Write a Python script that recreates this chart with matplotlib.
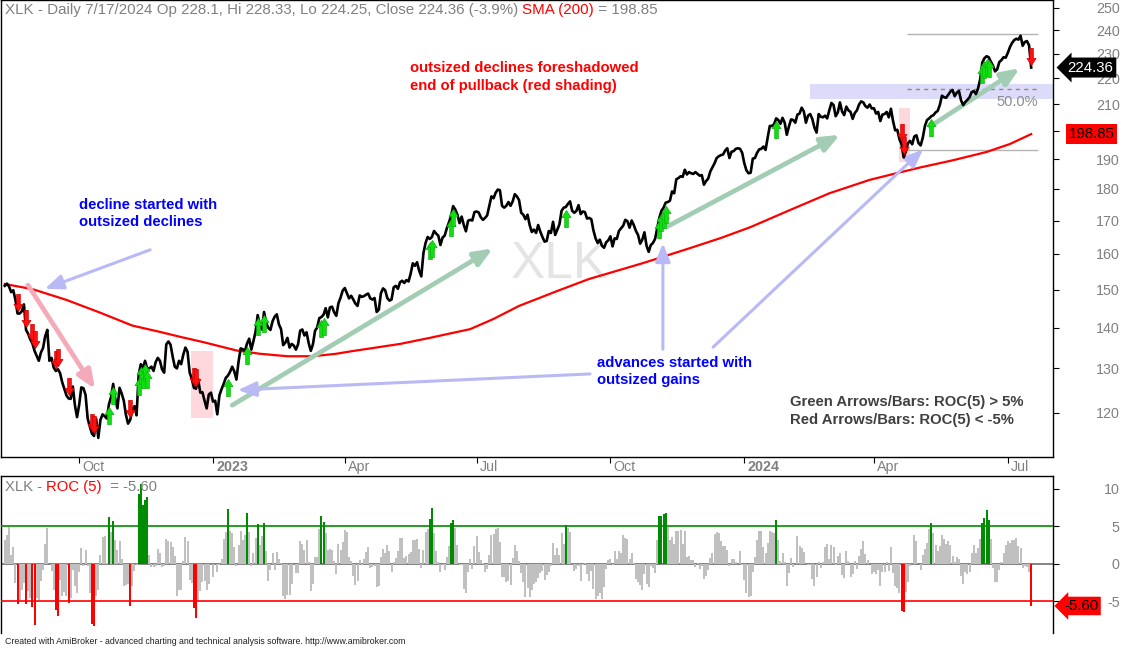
import numpy as np
import pandas as pd
import matplotlib
matplotlib.use('Agg')
import matplotlib.pyplot as plt
import matplotlib.transforms as mtransforms

FONT = ['Liberation Sans', 'DejaVu Sans']
plt.rcParams['font.family'] = FONT

W, H = 1123, 647

# ---------------- data ----------------
holidays = ['2022-09-05', '2022-11-24', '2022-12-26', '2023-01-02', '2023-01-16',
            '2023-02-20', '2023-04-07', '2023-05-29', '2023-06-19', '2023-07-04',
            '2023-09-04', '2023-11-23', '2023-12-25', '2024-01-01', '2024-01-15',
            '2024-02-19', '2024-03-29', '2024-05-27', '2024-06-19', '2024-07-04']
dates = pd.bdate_range('2022-08-12', '2024-07-17', freq='C', holidays=holidays)

# closes before the window (only used for the first ROC values)
pre_close = [146.4, 146.0, 143.8, 147.6, 146.6]

close_2022 = [
    # Aug
    151.0, 151.6, 150.8, 149.3, 149.8, 147.2, 143.6, 143.6, 144.2, 146.0, 139.4, 138.4, 137.0, 136.0,
    # Sep
    134.2, 133.0, 131.8, 133.8, 134.9, 137.8, 139.4, 131.8, 132.5, 130.2, 129.4, 129.8, 128.9, 126.8,
    125.3, 123.8, 123.1, 123.0, 125.8, 121.6, 119.0,
    # Oct
    121.7, 125.6, 125.4, 123.9, 118.7, 117.0, 115.5, 115.0, 118.6, 114.6, 118.4, 119.6, 119.2, 118.7,
    121.8, 123.4, 126.4, 123.0, 120.9, 125.5, 124.2,
    # Nov
    122.6, 119.5, 117.6, 118.4, 120.5, 121.4, 119.4, 128.5, 131.0, 130.0, 131.8, 130.0, 130.0, 130.4,
    129.4, 131.5, 132.5, 131.8, 129.8, 129.0, 135.8,
    # Dec
    136.5, 135.7, 132.8, 130.4, 130.0, 131.8, 131.0, 133.3, 135.0, 134.0, 129.0, 127.6, 125.5, 125.3,
    127.4, 124.4, 124.5, 122.6, 120.9, 124.0, 124.4,
]
close_2023 = [
    # Jan
    122.4, 122.6, 119.6, 123.8, 125.2, 126.4, 127.8, 128.3, 129.2, 130.4, 129.3, 127.4, 131.6, 134.8,
    134.6, 134.2, 136.0, 137.2, 134.5, 136.6,
    # Feb
    138.9, 143.2, 140.6, 139.5, 144.0, 141.2, 139.9, 139.4, 141.6, 142.8, 143.4, 140.8, 139.6, 135.6,
    136.2, 137.4, 135.0, 135.9, 135.5,
    # Mar
    134.5, 135.8, 139.2, 139.5, 138.0, 138.8, 136.1, 134.2, 135.8, 139.2, 140.0, 142.4, 142.7, 143.3,
    145.0, 142.6, 145.2, 145.4, 143.9, 143.0, 146.3, 147.8, 149.7,
    # Apr
    150.4, 149.0, 147.6, 148.3, 147.3, 146.2, 145.6, 148.4, 148.0, 148.2, 148.6, 148.9, 147.6, 147.3,
    147.7, 144.0, 144.6, 149.0, 150.3,
    # May
    149.8, 147.7, 147.0, 147.3, 150.6, 151.0, 150.2, 152.0, 152.4, 151.8, 152.6, 152.2, 154.4, 157.3,
    156.6, 157.6, 155.2, 153.6, 160.2, 163.2, 165.0, 164.4,
    # Jun
    165.0, 166.8, 166.0, 165.4, 162.6, 164.8, 165.4, 167.6, 169.4, 171.4, 174.5, 173.4, 171.8, 169.2,
    171.2, 168.6, 166.7, 169.9, 170.2, 170.0, 172.6,
    # Jul
    172.8, 172.5, 171.0, 170.2, 170.8, 171.6, 174.5, 177.6, 177.0, 178.8, 179.8, 179.6, 174.6, 174.0,
    174.6, 175.8, 174.6, 176.0, 178.3, 177.6,
    # Aug
    176.4, 172.4, 171.8, 170.4, 171.8, 168.6, 166.5, 167.2, 166.2, 168.6, 166.6, 165.0, 163.6, 163.8,
    166.8, 166.2, 169.6, 165.6, 167.2, 168.8, 173.0, 174.0, 174.2,
    # Sep
    175.2, 176.0, 173.0, 172.4, 173.0, 174.8, 172.0, 172.8, 172.6, 170.6, 170.8, 170.4, 167.0, 164.6,
    163.2, 164.2, 162.4, 161.8, 163.4, 164.0,
    # Oct
    165.2, 162.2, 164.6, 164.4, 166.8, 167.6, 168.4, 170.2, 169.8, 167.8, 170.0, 168.6, 166.8, 165.6,
    163.0, 164.2, 166.4, 162.4, 160.6, 162.6, 163.2, 164.4,
    # Nov
    167.6, 170.8, 173.0, 174.0, 175.6, 175.8, 176.2, 179.2, 178.6, 183.2, 183.6, 184.2, 184.0, 186.4,
    184.8, 185.6, 185.2, 185.0, 185.6, 185.0, 184.4,
    # Dec
    184.6, 181.4, 182.6, 183.4, 185.8, 187.2, 188.6, 190.4, 191.0, 191.4, 191.6, 193.0, 193.8, 190.4,
    192.6, 192.8, 193.6, 193.8, 193.6, 192.2,
]
close_2024 = [
    # Jan
    188.6, 186.2, 185.2, 185.4, 190.2, 190.4, 192.2, 193.4, 193.6, 194.4, 193.2, 197.6, 201.8, 201.8,
    202.4, 204.6, 204.0, 202.6, 204.8, 203.0, 198.6,
    # Feb
    201.6, 204.2, 204.0, 203.0, 206.0, 206.4, 208.6, 207.2, 203.0, 205.6, 206.2, 204.4, 201.2, 199.4,
    206.2, 205.2, 205.0, 205.6, 204.6, 207.6,
    # Mar
    210.4, 209.6, 205.4, 206.8, 210.6, 207.2, 205.8, 209.0, 207.6, 207.0, 204.4, 206.6, 207.6, 209.8,
    211.0, 210.6, 209.2, 208.6, 209.8, 208.3,
    # Apr
    208.4, 206.4, 207.0, 203.6, 206.0, 206.2, 207.0, 205.0, 208.2, 203.6, 200.2, 200.4, 197.0, 195.2,
    190.6, 192.6, 195.6, 196.4, 195.2, 198.0, 198.4, 195.6,
    # May
    194.8, 197.6, 201.8, 204.0, 204.6, 205.4, 205.8, 206.8, 207.4, 209.6, 213.2, 212.6, 212.4, 213.6,
    214.8, 215.4, 213.0, 214.4, 215.0, 211.4, 209.6, 210.8,
    # Jun
    211.6, 212.6, 214.6, 215.0, 213.8, 216.0, 219.6, 226.4, 228.2, 229.0, 228.6, 226.8, 225.2, 222.8,
    223.6, 226.6, 227.4, 228.6, 228.4,
    # Jul
    230.4, 232.8, 234.6, 235.8, 236.4, 236.0, 237.7, 233.4, 235.0, 235.4, 233.6, 224.36,
]
close = np.array(close_2022 + close_2023 + close_2024)

# 200-day SMA (bar index, value)
sma_idx = [0, 13, 29, 45, 60, 73, 83, 93, 109, 120, 133, 145, 156, 163, 186, 200,
           219, 230, 242, 260, 275, 300, 322, 337, 351, 370, 388, 407, 420, 431, 446, 462, 473, 483]
sma_val = [151.5, 150.1, 147.2, 143.8, 140.5, 138.9, 137.6, 136.4, 134.3, 133.5, 132.9,
           132.9, 133.5, 134.1, 135.9, 137.4, 139.6, 142.2, 145.6, 149.6, 152.9, 157.3, 161.6,
           164.7, 168.0, 173.4, 178.6, 183.0, 185.3, 187.2, 189.6, 192.5, 195.3, 198.85]

month_labels = ['Oct', '2023', 'Apr', 'Jul', 'Oct', '2024', 'Apr', 'Jul']
month_starts = ['2022-10-01', '2023-01-01', '2023-04-01', '2023-07-01',
                '2023-10-01', '2024-01-01', '2024-04-01', '2024-07-01']

idx = np.arange(len(close))
allc = np.concatenate([pre_close, close])
roc = (allc[5:] / allc[:-5] - 1) * 100


def di(d):
    return int(np.searchsorted(dates, pd.Timestamp(d)))


# ---------------- figure ----------------
fig = plt.figure(figsize=(W / 100, H / 100), dpi=100)
ax = fig.add_axes([1 / W, (H - 457) / H, 1052 / W, 457 / H])
ax2 = fig.add_axes([1 / W, 14 / H, 1052 / W, 157 / H])

x0, x1 = (1 - 4.8) / 2.125, (1053 - 4.8) / 2.125
ax.set_xlim(x0, x1)
ax2.set_xlim(x0, x1)
ax.set_yscale('log')
ax.set_ylim(110.7, 253.6)
ax2.set_ylim(-9.2, 11.7)

grey_txt = '#808080'

# shading and bands
ax.add_patch(plt.Rectangle((di('2022-12-16') - 0.5, 118.8), 10.4, 134.1 - 118.8,
                           color='#ffd8de', lw=0, zorder=1))
ax.add_patch(plt.Rectangle((di('2024-04-17'), 188.9), 5.2, 208.3 - 188.9,
                           color='#ffd8de', lw=0, zorder=1))
ax.add_patch(plt.Rectangle((379, 211.9), 120, 217.7 - 211.9, color='#dcdcfa', lw=0, zorder=1))
ax.hlines([238.6, 193.3], 424.6, 486.2, color='#b4b4b4', lw=1, zorder=2)
ax.hlines(215.8, 424.6, 486.2, color='#888888', lw=1, linestyles=(0, (3, 3)), zorder=2)
ax.text(486.2, 210.6, '50.0%', color='#8c8c8c', fontsize=10.5, ha='right', va='center', zorder=2)

ax.text(261, 157, 'XLK', fontsize=37, color='#e4e4e4', ha='center', va='center', zorder=1)

# SMA and price
ax.plot(sma_idx, sma_val, color='#ff0000', lw=1.6, zorder=3)
ax.plot(idx, close, color='black', lw=1.9, zorder=4)

# signal arrows
down = [(0, 3), (-4.5, 10), (-1.8, 10), (-1.8, 20), (1.8, 20), (1.8, 10), (4.5, 10), (0, 3)]
up = [(a, -b) for a, b in down]
g = roc > 5
r = roc < -5
ax.plot(idx[g], close[g], ls='none', marker=up, ms=29, mfc='#10e010', mec='#10b010', mew=0.5, zorder=5)
ax.plot(idx[r], close[r], ls='none', marker=down, ms=29, mfc='#ff1010', mec='#d00000', mew=0.5, zorder=5)

# annotation arrows (bar index, price)
sage = '#a2cdb4'
lav = '#b9b9f5'
arrows = [
    (68.4, 161.2, 18.9, 150.2, lav, 2.2),
    (10.9, 151.2, 42.5, 125.2, '#f5aab9', 3.4),
    (107.0, 121.6, 229.7, 161.6, sage, 3.4),
    (275.4, 128.7, 109.7, 125.0, lav, 2.2),
    (309.7, 134.6, 309.7, 163.1, lav, 2.2),
    (333.3, 135.1, 432.1, 193.4, lav, 2.2),
    (311.6, 168.1, 393.0, 198.6, sage, 3.4),
    (435.4, 201.6, 477.7, 224.1, sage, 3.4),
]
for xa, ya, xb, yb, c, lw in arrows:
    ax.annotate('', xy=(xb, yb), xytext=(xa, ya),
                arrowprops=dict(arrowstyle='-|>,head_length=1.1,head_width=0.45', color=c,
                                lw=lw, shrinkA=0, shrinkB=0, mutation_scale=10), zorder=3)


def px(x, y):
    return x / W, 1 - y / H


kw = dict(fontsize=10.7, fontweight='bold', ha='left', va='center', linespacing=1.32)
fig.text(*px(410, 77), 'outsized declines foreshadowed\nend of pullback (red shading)', color='#ff0000', **kw)
fig.text(*px(79, 213.5), 'decline started with\noutsized declines', color='#0000ff', **kw)
fig.text(*px(597, 371.5), 'advances started with\noutsized gains', color='#0000ff', **kw)
fig.text(*px(790, 411), 'Green Arrows/Bars: ROC(5) > 5%\nRed Arrows/Bars: ROC(5) < -5%', color='#404040', **kw)

# ROC panel
cols = np.where(g, '#008c00', np.where(r, '#ff0000', '#c0c0c0'))
ax2.bar(idx, roc, width=0.9, color=cols, lw=0, zorder=2)
ax2.axhline(5, color='#008c00', lw=1.2, zorder=3)
ax2.axhline(-5, color='#ff0000', lw=1.2, zorder=3)
ax2.axhline(0, color='#707070', lw=1.2, zorder=1)

# axes styling
for a in (ax, ax2):
    a.set_facecolor('white')
    for s in a.spines.values():
        s.set_color('black')
        s.set_linewidth(1)
    a.yaxis.tick_right()
    a.tick_params(axis='y', which='both', direction='out', length=4, color='black',
                  labelcolor=grey_txt, labelsize=10.3, pad=44)
ax2.spines['bottom'].set_visible(False)

ax.yaxis.set_minor_locator(matplotlib.ticker.NullLocator())
ticks = list(range(120, 251, 10))
ax.set_yticks(ticks)
# the 200 label sits under the SMA value tag, as in the original
ax.set_yticklabels(['' if t == 200 else str(t) for t in ticks])
ax2.set_yticks([-5, 0, 5, 10])
ax2.set_yticklabels(['-5', '0', '5', '10'])
for a in (ax, ax2):
    for lab in a.get_yticklabels():
        lab.set_horizontalalignment('right')

mpos = [di(m) for m in month_starts]
ax.set_xticks(mpos)
ax.set_xticklabels([])
ax.tick_params(axis='x', direction='out', length=4, color='black')
ax2.set_xticks([])
bt = mtransforms.blended_transform_factory(ax.transData, ax.transAxes)
for m, lab in zip(mpos, month_labels):
    ax.text(m + 1.4, -10 / 457, lab, transform=bt, ha='left', va='center', fontsize=10.3,
            color=grey_txt, fontweight='bold' if lab.isdigit() else 'normal', clip_on=False)

# value tags
ty = ax.get_yaxis_transform()
ax.text(1.0355, 224.36, '224.36', transform=ty, color='white', fontsize=10.8, ha='center', va='center',
        bbox=dict(boxstyle='larrow,pad=0.2', fc='black', ec='none'), clip_on=False, zorder=10)
ax.text(1.0365, 198.85, '198.85', transform=ty, color='black', fontsize=10.8, ha='center', va='center',
        bbox=dict(boxstyle='square,pad=0.18', fc='#ff0000', ec='none'), clip_on=False, zorder=10)
ax2.text(1.027, -5.6, '-5.60', transform=ax2.get_yaxis_transform(), color='black', fontsize=10.8,
         ha='center', va='center', bbox=dict(boxstyle='larrow,pad=0.15', fc='#ff0000', ec='none'),
         clip_on=False, zorder=10)

# headers built piece by piece
renderer = fig.canvas.get_renderer()


def chain(x, y, pieces, size):
    for s, c in pieces:
        t = fig.text(*px(x, y), s, color=c, fontsize=size, ha='left', va='center')
        x += t.get_window_extent(renderer).width


chain(5, 10, [('XLK - Daily 7/17/2024 Op 228.1, Hi 228.33, Lo 224.25, Close 224.36 (-3.9%) ', grey_txt),
              ('SMA (200)', '#ff0000'), (' = 198.85', grey_txt)], 10.9)
chain(5, 487, [('XLK - ', grey_txt), ('ROC (5)', '#ff0000'), ('  = -5.60', grey_txt)], 10.7)

fig.text(*px(5, 641), 'Created with AmiBroker - advanced charting and technical analysis software. '
         'http://www.amibroker.com', fontsize=6.3, color='#202020', ha='left', va='center')

fig.savefig('out.png', dpi=100)
